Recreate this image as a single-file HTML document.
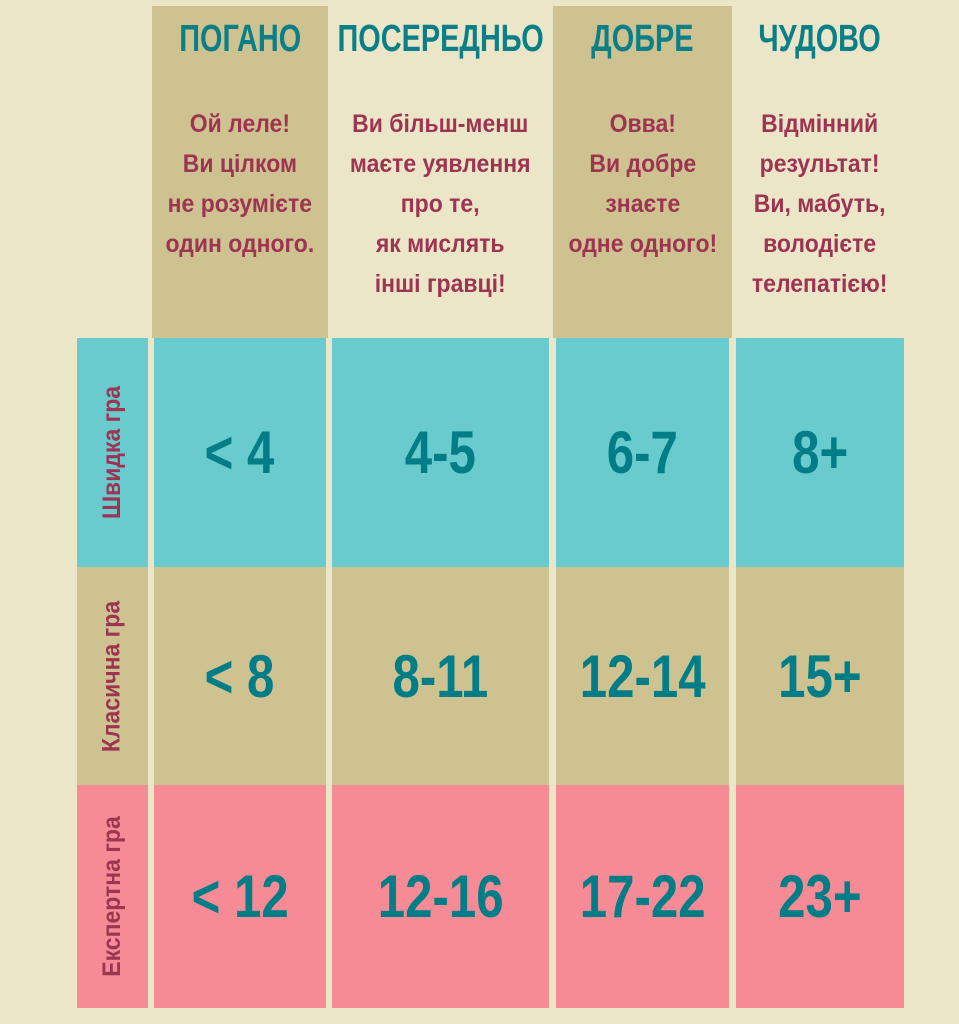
<!DOCTYPE html>
<html><head><meta charset="utf-8"><style>
body{margin:0;width:959px;height:1024px;background:#ece6c9;position:relative;overflow:hidden;font-family:"Liberation Sans",sans-serif;font-weight:bold}
div{position:absolute;box-sizing:border-box}
.t{color:#0a7f87;font-size:38px;top:18px;display:flex;justify-content:center}
.t span{display:inline-block;transform:scaleX(0.76);white-space:nowrap}
.d{color:#9c3452;font-size:25px;line-height:40px;text-align:center;top:104px;display:flex;justify-content:center}
.d span{display:inline-block;transform:scaleX(0.92);white-space:nowrap}
.c{display:flex;align-items:center;justify-content:center;color:#007d86;font-size:60px}
.c span{display:inline-block;transform:scaleX(0.82);white-space:nowrap}
.cy{background:#69cbcd}.tn{background:#cfc291}.pk{background:#f68b95}
.r{display:flex;align-items:center;justify-content:center}
.r span{transform:rotate(-90deg) scaleX(0.92);white-space:nowrap;color:#9c3452;font-size:25px}
</style></head><body>
<div class="tn" style="left:152px;top:6px;width:176px;height:332px"></div>
<div class="tn" style="left:553px;top:6px;width:179px;height:332px"></div>
<div class="t" style="left:152px;width:176px"><span>ПОГАНО</span></div>
<div class="t" style="left:330px;width:221px"><span>ПОСЕРЕДНЬО</span></div>
<div class="t" style="left:553px;width:179px"><span>ДОБРЕ</span></div>
<div class="t" style="left:734px;width:172px"><span>ЧУДОВО</span></div>
<div class="d" style="left:152px;width:176px"><span>Ой леле!<br>Ви цілком<br>не розумієте<br>один одного.</span></div>
<div class="d" style="left:330px;width:221px"><span>Ви більш-менш<br>маєте уявлення<br>про те,<br>як мислять<br>інші гравці!</span></div>
<div class="d" style="left:553px;width:179px"><span>Овва!<br>Ви добре<br>знаєте<br>одне одного!</span></div>
<div class="d" style="left:734px;width:172px"><span>Відмінний<br>результат!<br>Ви, мабуть,<br>володієте<br>телепатією!</span></div>

<div class="cy r" style="left:77px;top:338px;width:71px;height:229px"><span>Швидка гра</span></div>
<div class="tn r" style="left:77px;top:567px;width:71px;height:218px"><span>Класична гра</span></div>
<div class="pk r" style="left:77px;top:785px;width:71px;height:223px"><span>Експертна гра</span></div>

<div class="cy c" style="left:154px;top:338px;width:172px;height:229px"><span>&lt; 4</span></div>
<div class="cy c" style="left:332px;top:338px;width:217px;height:229px"><span>4-5</span></div>
<div class="cy c" style="left:556px;top:338px;width:173px;height:229px"><span>6-7</span></div>
<div class="cy c" style="left:736px;top:338px;width:168px;height:229px"><span>8+</span></div>

<div class="tn c" style="left:154px;top:567px;width:172px;height:218px"><span>&lt; 8</span></div>
<div class="tn c" style="left:332px;top:567px;width:217px;height:218px"><span>8-11</span></div>
<div class="tn c" style="left:556px;top:567px;width:173px;height:218px"><span>12-14</span></div>
<div class="tn c" style="left:736px;top:567px;width:168px;height:218px"><span>15+</span></div>

<div class="pk c" style="left:154px;top:785px;width:172px;height:223px"><span>&lt; 12</span></div>
<div class="pk c" style="left:332px;top:785px;width:217px;height:223px"><span>12-16</span></div>
<div class="pk c" style="left:556px;top:785px;width:173px;height:223px"><span>17-22</span></div>
<div class="pk c" style="left:736px;top:785px;width:168px;height:223px"><span>23+</span></div>
</body></html>
